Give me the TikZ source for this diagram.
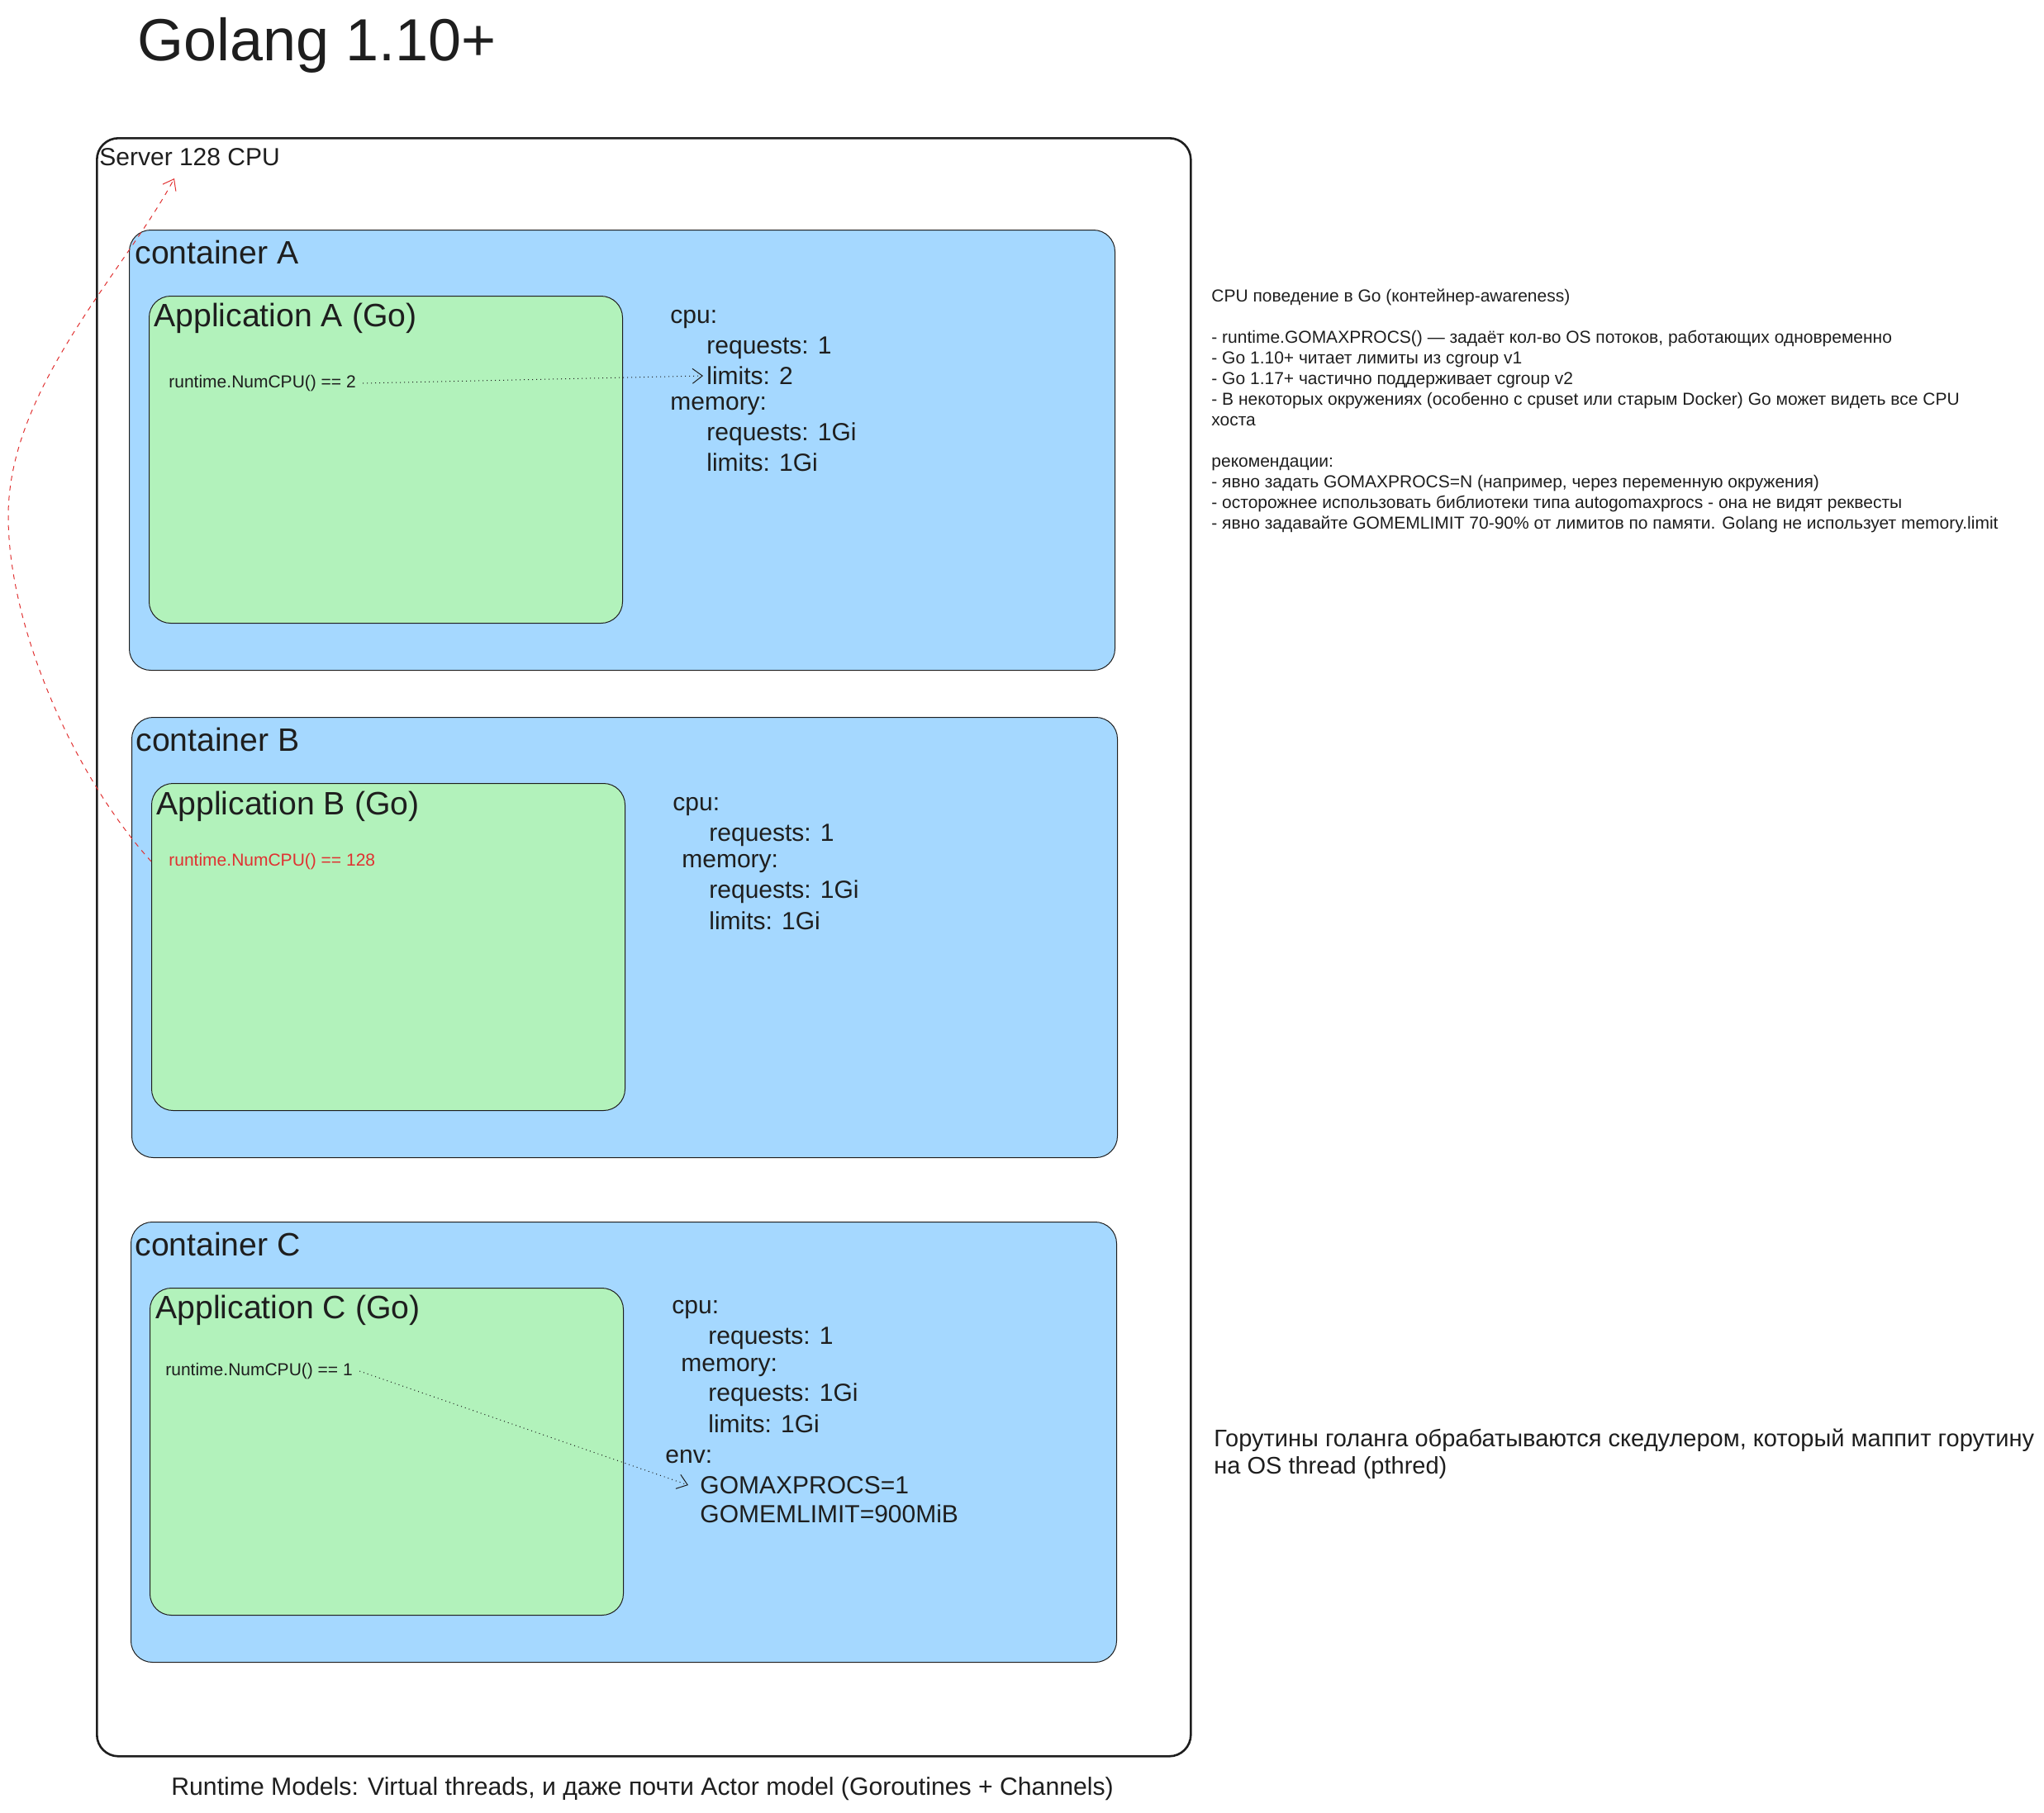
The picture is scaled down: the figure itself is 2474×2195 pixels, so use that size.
\documentclass[tikz,border=0pt]{standalone}
\usepackage{fontspec}
\setmainfont{Liberation Sans}
\usepackage{tikz}
\usetikzlibrary{positioning}
\usetikzlibrary{arrows.meta}
\usepackage{xcolor}
\definecolor{ink}{HTML}{1E1E1E}
\definecolor{contblue}{HTML}{A5D8FF}
\definecolor{appgreen}{HTML}{B2F2BB}
\definecolor{alert}{HTML}{E03131}

\begin{document}
\begin{tikzpicture}[x=0.5pt, y=-0.5pt,
        box/.style={draw=ink, line width=0.5pt, rounded corners=13pt, anchor=north west, inner sep=0pt},
        server/.style={box, line width=1.3pt, minimum width=662pt, minimum height=979.5pt},
        cont/.style={box, fill=contblue, minimum width=596.5pt, minimum height=266.5pt},
        app/.style={box, fill=appgreen, minimum width=286.5pt, minimum height=198pt},
        txt/.style={anchor=west, inner sep=0pt, text=ink},
        big/.style={txt, font=\fontsize{19.6}{23}\selectfont},
        spec/.style={txt, font=\fontsize{15}{18}\selectfont},
        small/.style={txt, font=\fontsize{10.5}{12.5}\selectfont},
        link/.style={draw=ink, line width=0.5pt, dotted, -{Straight Barb[open, length=6pt, width=9pt]}}]
        \useasboundingbox (0,0) rectangle (2474,2195);

        \node[txt, font=\fontsize{36}{40}\selectfont] (title) at (166,55) {Golang 1.10+};

        \node[server] (srv) at (116,166) {};
        \node[spec] (srvlbl) at (120,190) {Server 128 CPU};

        % container A
        \node[cont] (contA) at (156,278) {};
        \node[big] (contAlbl) at (163,305) {container A};
        \node[app] (appA) at (180,358) {};
        \node[big] (appAlbl) at (186,385) {Application A (Go)};
        \node[small] (runA) at (204,464) {runtime.NumCPU() == 2};
        \node[spec] (cpuA) at (811,387) {cpu:};
        \node[spec] (reqA) at (855,421) {requests: 1};
        \node[spec] (limA) at (855,455) {limits: 2};
        \node[spec] (memA) at (811,492) {memory:};
        \node[spec] (mreqA) at (855,526) {requests: 1Gi};
        \node[spec] (mlimA) at (855,560) {limits: 1Gi};

        % container B
        \node[cont] (contB) at (159,868) {};
        \node[big] (contBlbl) at (164,895) {container B};
        \node[app] (appB) at (183,948) {};
        \node[big] (appBlbl) at (189,976) {Application B (Go)};
        \node[small, text=alert] (runB) at (204,1043) {runtime.NumCPU() == 128};
        \node[spec] (cpuB) at (814,977) {cpu:};
        \node[spec] (reqB) at (858,1011) {requests: 1};
        \node[spec] (memB) at (825,1046) {memory:};
        \node[spec] (mreqB) at (858,1080) {requests: 1Gi};
        \node[spec] (mlimB) at (858,1115) {limits: 1Gi};

        % container C
        \node[cont] (contC) at (158,1479) {};
        \node[big] (contClbl) at (163,1506) {container C};
        \node[app] (appC) at (181,1559) {};
        \node[big] (appClbl) at (188,1586) {Application C (Go)};
        \node[small] (runC) at (200,1660) {runtime.NumCPU() == 1};
        \node[spec] (cpuC) at (813,1586) {cpu:};
        \node[spec] (reqC) at (857,1620) {requests: 1};
        \node[spec] (memC) at (824,1656) {memory:};
        \node[spec] (mreqC) at (857,1689) {requests: 1Gi};
        \node[spec] (mlimC) at (857,1724) {limits: 1Gi};
        \node[spec] (envC) at (805,1764) {env:};
        \node[spec] (procsC) at (847,1798) {GOMAXPROCS=1};
        \node[spec] (gomemC) at (847,1833) {GOMEMLIMIT=900MiB};

        % notes
        \node[small, anchor=north west, align=left] (notes) at (1466,350) {CPU поведение в Go (контейнер-awareness)\\[12.5pt]
            - runtime.GOMAXPROCS() — задаёт кол-во OS потоков, работающих одновременно\\
            - Go 1.10+ читает лимиты из cgroup v1\\
            - Go 1.17+ частично поддерживает cgroup v2\\
            - В некоторых окружениях (особенно с cpuset или старым Docker) Go может видеть все CPU\\
            хоста\\[12.5pt]
            рекомендации:\\
            - явно задать GOMAXPROCS=N (например, через переменную окружения)\\
            - осторожнее использовать библиотеки типа autogomaxprocs - она не видят реквесты\\
            - явно задавайте GOMEMLIMIT 70-90\% от лимитов по памяти. Golang не использует memory.limit};
        \node[spec, anchor=north west, align=left, font=\fontsize{14.5}{16.5}\selectfont] (sched) at (1469,1730) {Горутины голанга обрабатываются скедулером, который маппит горутину\\
            на OS thread (pthred)};
        \node[spec, font=\fontsize{15.1}{17}\selectfont] (caption) at (207,2166) {Runtime Models: Virtual threads, и даже почти Actor model (Goroutines + Channels)};

        \coordinate (srvtip) at (211,216);
        \draw[link] (runA.east) ++(8,0) -- ([xshift=-2pt]limA.west);
        \draw[link] (runC.east) ++(8,0) -- ([xshift=-7pt]procsC.west);
        \draw[alert, line width=0.5pt, dashed, -{Straight Barb[open, length=6pt, width=9pt]}]
            (appB.west |- runB) .. controls (90,940) and (10,760) .. (10,625)
            .. controls (10,470) and (150,330) .. (srvtip);
    \end{tikzpicture}
\end{document}
